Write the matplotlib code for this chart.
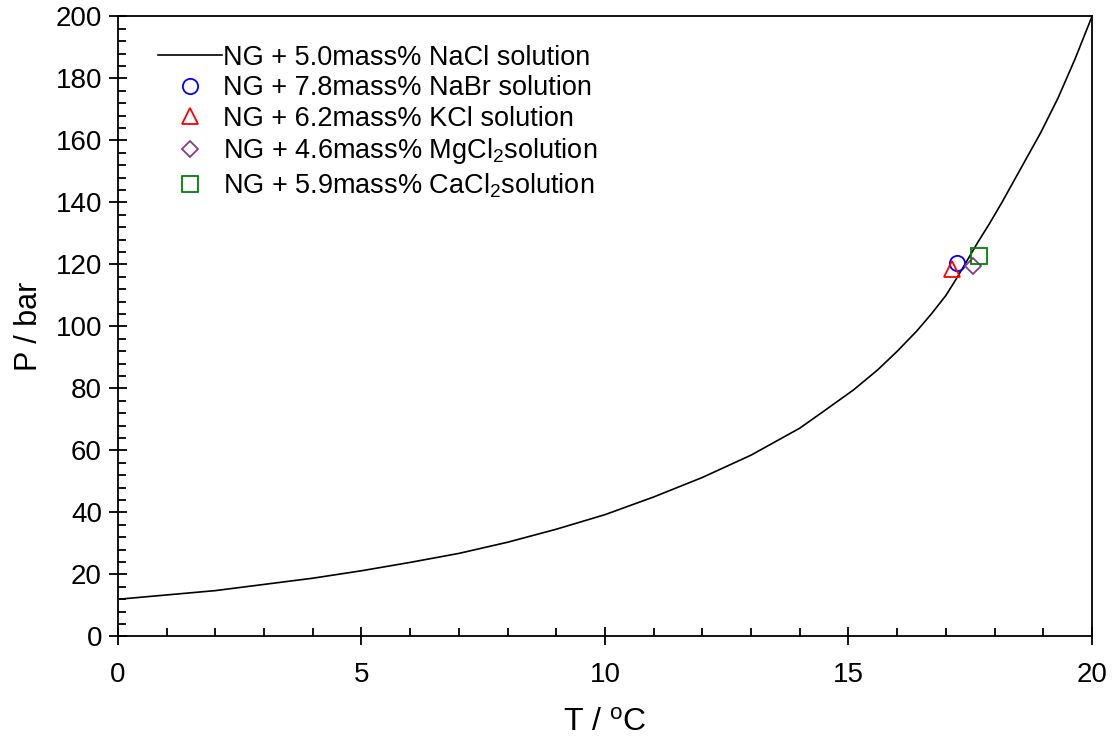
import numpy as np
import matplotlib
matplotlib.use("Agg")
import matplotlib.pyplot as plt
from matplotlib.ticker import MultipleLocator

plt.rcParams['font.family'] = ['Liberation Sans', 'DejaVu Sans']
plt.rcParams['mathtext.default'] = 'regular'

# hydrate equilibrium curve, NG + 5.0 mass% NaCl
T_nacl = [0, 1, 2, 3, 4, 5, 6, 7, 8, 9, 10, 11, 12, 13, 14, 14.45, 15.1, 15.6, 16.0,
          16.4, 16.7, 17.0, 17.2, 17.4, 17.65, 17.9, 18.15, 18.55, 18.95, 19.3, 19.65, 20]
P_nacl = [12.0, 13.4, 14.8, 16.8, 18.8, 21.2, 23.9, 26.8, 30.4, 34.6, 39.3, 45.0, 51.3,
          58.5, 67.2, 72.2, 79.5, 86.0, 92.0, 98.5, 104.0, 110.0, 115.0, 120.3, 127.0,
          133.3, 140.0, 151.3, 162.6, 173.6, 186.2, 200.0]

# experimental points
T_nabr, P_nabr = [17.22], [120.6]
T_kcl, P_kcl = [17.13], [118.6]
T_mgcl2, P_mgcl2 = [17.55], [119.6]
T_cacl2, P_cacl2 = [17.69], [122.8]

fig = plt.figure(figsize=(11.17, 7.42), dpi=100)
ax = fig.add_axes([0.1056, 0.1422, 0.872, 0.8356])

ax.plot(T_nacl, P_nacl, color='black', lw=1.2, label='NG + 5.0mass% NaCl solution')
ax.plot(T_nabr, P_nabr, 'o', ms=11, mfc='none', mec='blue', mew=1.3, ls='none',
        label='NG + 7.8mass% NaBr solution')
ax.plot(T_kcl, P_kcl, '^', ms=11, mfc='none', mec='red', mew=1.3, ls='none',
        label='NG + 6.2mass% KCl solution')
ax.plot(T_mgcl2, P_mgcl2, 'D', ms=8.5, mfc='none', mec='#8B3A8B', mew=1.3, ls='none',
        label='NG + 4.6mass% MgCl$_2$solution')
ax.plot(T_cacl2, P_cacl2, 's', ms=11, mfc='none', mec='green', mew=1.3, ls='none',
        label='NG + 5.9mass% CaCl$_2$solution')

ax.set_xlim(0, 20)
ax.set_ylim(0, 200)
ax.xaxis.set_major_locator(MultipleLocator(5))
ax.xaxis.set_minor_locator(MultipleLocator(1))
ax.yaxis.set_major_locator(MultipleLocator(20))
ax.yaxis.set_minor_locator(MultipleLocator(4))
ax.tick_params(which='major', direction='inout', length=13, width=1.3, labelsize=20, pad=5)
ax.tick_params(which='minor', direction='in', length=5.5, width=1.3)
ax.tick_params(axis='x', which='major', pad=12)
for s in ax.spines.values():
    s.set_linewidth(1.3)

ax.set_xlabel('T / $^{o}$C', fontsize=23, labelpad=14)
ax.set_ylabel('P / bar', fontsize=22, labelpad=8)

ax.legend(loc='upper left', frameon=False, fontsize=19.5, handlelength=2.35,
          handletextpad=0.05, labelspacing=0.17, borderaxespad=0.0,
          bbox_to_anchor=(0.03, 0.972))

fig.savefig('out.png', dpi=100)
